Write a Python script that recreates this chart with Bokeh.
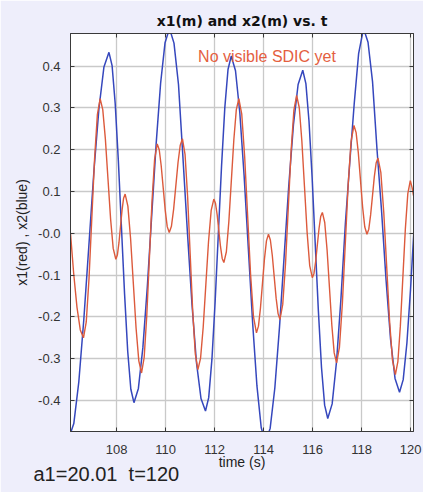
from bokeh.plotting import figure
from bokeh.models import Range1d, FixedTicker, Label, Title, LinearAxis
from bokeh.embed import file_html
from bokeh.resources import INLINE

# x1 (red) samples
t_x1 = [106.12, 106.25, 106.385, 106.52, 106.65, 106.763, 106.877, 106.99, 107.103, 107.217,
        107.33, 107.437, 107.543, 107.65, 107.757, 107.863, 107.97, 108.033, 108.097, 108.16,
        108.223, 108.287, 108.35, 108.462, 108.573, 108.685, 108.797, 108.908, 109.02, 109.127,
        109.233, 109.34, 109.447, 109.553, 109.66, 109.742, 109.823, 109.905, 109.987, 110.068,
        110.15, 110.24, 110.33, 110.42, 110.51, 110.60, 110.69, 110.795, 110.90, 111.005,
        111.11, 111.215, 111.32, 111.428, 111.537, 111.645, 111.753, 111.862, 111.97, 112.038,
        112.107, 112.175, 112.243, 112.312, 112.38, 112.482, 112.583, 112.685, 112.787, 112.888,
        112.99, 113.11, 113.23, 113.35, 113.47, 113.59, 113.71, 113.792, 113.873, 113.955,
        114.037, 114.118, 114.20, 114.278, 114.357, 114.435, 114.513, 114.592, 114.67, 114.783,
        114.897, 115.01, 115.123, 115.237, 115.35, 115.457, 115.563, 115.67, 115.777, 115.883,
        115.99, 116.058, 116.127, 116.195, 116.263, 116.332, 116.40, 116.497, 116.593, 116.69,
        116.787, 116.883, 116.98, 117.098, 117.217, 117.335, 117.453, 117.572, 117.69, 117.778,
        117.867, 117.955, 118.043, 118.132, 118.22, 118.295, 118.37, 118.445, 118.52, 118.595,
        118.67, 118.788, 118.907, 119.025, 119.143, 119.262, 119.38, 119.482, 119.583, 119.685,
        119.787, 119.888, 119.99, 120.06, 120.12]
x1 = [0.000, -0.096, -0.177, -0.231, -0.250, -0.212, -0.107, 0.036, 0.179, 0.284,
      0.322, 0.296, 0.226, 0.130, 0.034, -0.036, -0.062, -0.052, -0.023, 0.016,
      0.055, 0.084, 0.094, 0.065, -0.013, -0.120, -0.227, -0.305, -0.334, -0.297,
      -0.197, -0.060, 0.077, 0.177, 0.214, 0.200, 0.161, 0.108, 0.055, 0.016,
      0.002, 0.017, 0.058, 0.114, 0.170, 0.211, 0.226, 0.189, 0.088, -0.050,
      -0.188, -0.289, -0.326, -0.299, -0.224, -0.122, -0.020, 0.055, 0.082, 0.072,
      0.044, 0.006, -0.032, -0.060, -0.070, -0.044, 0.028, 0.126, 0.224, 0.296,
      0.322, 0.285, 0.182, 0.042, -0.098, -0.200, -0.238, -0.222, -0.179, -0.120,
      -0.061, -0.018, -0.002, -0.016, -0.053, -0.104, -0.155, -0.192, -0.206, -0.170,
      -0.072, 0.062, 0.196, 0.294, 0.330, 0.301, 0.221, 0.112, 0.003, -0.077,
      -0.106, -0.096, -0.067, -0.028, 0.011, 0.040, 0.050, 0.026, -0.040, -0.130,
      -0.220, -0.286, -0.310, -0.272, -0.168, -0.026, 0.116, 0.220, 0.258, 0.241,
      0.193, 0.128, 0.063, 0.015, -0.002, 0.010, 0.044, 0.089, 0.135, 0.168,
      0.180, 0.145, 0.050, -0.079, -0.209, -0.303, -0.338, -0.307, -0.222, -0.106,
      0.010, 0.095, 0.126, 0.110, 0.090]

# x2 (blue) samples
t_x2 = [106.05, 106.255, 106.46, 106.665, 106.87, 107.075, 107.28, 107.485, 107.69, 107.818,
        107.945, 108.073, 108.20, 108.328, 108.455, 108.583, 108.71, 108.891, 109.073, 109.254,
        109.435, 109.616, 109.798, 109.979, 110.16, 110.344, 110.528, 110.711, 110.895, 111.079,
        111.263, 111.446, 111.63, 111.761, 111.893, 112.024, 112.155, 112.286, 112.418, 112.549,
        112.68, 112.855, 113.03, 113.205, 113.38, 113.555, 113.73, 113.905, 114.08, 114.27,
        114.46, 114.65, 114.84, 115.03, 115.22, 115.41, 115.60, 115.728, 115.855, 115.983,
        116.11, 116.238, 116.365, 116.493, 116.62, 116.80, 116.98, 117.16, 117.34, 117.52,
        117.70, 117.88, 118.08, 118.264, 118.448, 118.631, 118.815, 118.999, 119.183, 119.366,
        119.55, 119.70, 119.85, 120.00, 120.15, 120.30]
x2 = [-0.490, -0.455, -0.355, -0.205, -0.029, 0.148, 0.298, 0.398, 0.433, 0.401,
      0.310, 0.174, 0.014, -0.146, -0.282, -0.373, -0.405, -0.371, -0.274, -0.129,
      0.043, 0.214, 0.359, 0.456, 0.490, 0.455, 0.356, 0.180, 0.000, -0.170,
      -0.310, -0.395, -0.425, -0.393, -0.301, -0.163, 0.000, 0.162, 0.300, 0.392,
      0.424, 0.389, 0.289, 0.139, -0.038, -0.215, -0.365, -0.465, -0.500, -0.466,
      -0.370, -0.225, -0.055, 0.115, 0.260, 0.356, 0.390, 0.358, 0.268, 0.133,
      -0.027, -0.186, -0.321, -0.411, -0.443, -0.408, -0.306, -0.155, 0.024, 0.170,
      0.310, 0.430, 0.490, 0.457, 0.363, 0.200, 0.055, -0.111, -0.253, -0.347,
      -0.380, -0.350, -0.263, -0.133, 0.020, 0.173]

x_ticks = [108, 110, 112, 114, 116, 118, 120]
y_ticks = [-0.4, -0.3, -0.2, -0.1, 0.0, 0.1, 0.2, 0.3, 0.4]
y_tick_labels = ["-0.4", "-0.3", "-0.2", "-0.1", "-0.0", "0.1", "0.2", "0.3", "0.4"]

p = figure(width=423, height=492, output_backend="svg", toolbar_location=None,
           x_range=Range1d(106.12, 120.12), y_range=Range1d(-0.474, 0.478),
           min_border_left=70, min_border_right=10, min_border_top=33, min_border_bottom=61,
           title="x1(m) and x2(m) vs. t")

p.border_fill_color = "#eeeefb"
p.background_fill_color = "white"
p.outline_line_color = "#3a3a3a"
p.outline_line_width = 1

p.title.align = "center"
p.title.text_font = "DejaVu Sans"
p.title.text_font_size = "14px"
p.title.text_font_style = "bold"
p.title.text_color = "#111111"
p.title.standoff = 10

bottom_axis = p.below[0]
left_axis = p.left[0]

# plain tick-only axes on the top and right edges of the frame
top_axis = LinearAxis()
right_axis = LinearAxis()
p.add_layout(top_axis, "above")
p.add_layout(right_axis, "right")

for ax in (bottom_axis, top_axis):
    ax.ticker = FixedTicker(ticks=x_ticks, minor_ticks=[])
for ax in (left_axis, right_axis):
    ax.ticker = FixedTicker(ticks=y_ticks, minor_ticks=[])

for ax in (bottom_axis, left_axis, top_axis, right_axis):
    ax.major_tick_in = 4
    ax.major_tick_out = 0
    ax.minor_tick_in = 0
    ax.minor_tick_out = 0
    ax.axis_line_color = "#3a3a3a"
    ax.major_tick_line_color = "#3a3a3a"
    ax.major_label_text_font = "Liberation Sans"
    ax.major_label_text_font_size = "13px"
    ax.major_label_text_color = "#333333"
    ax.axis_label_text_font = "Liberation Sans"
    ax.axis_label_text_font_size = "14px"
    ax.axis_label_text_font_style = "normal"
    ax.axis_label_text_color = "#222222"

for ax in (top_axis, right_axis):
    ax.major_label_text_font_size = "0px"
    ax.major_label_text_alpha = 0
    ax.major_label_standoff = 0

left_axis.major_label_overrides = dict(zip(y_ticks, y_tick_labels))

bottom_axis.axis_label = "time (s)"
bottom_axis.major_label_standoff = 13
bottom_axis.axis_label_standoff = -3
left_axis.axis_label = "x1(red) , x2(blue)"
left_axis.major_label_standoff = 10
left_axis.axis_label_standoff = 5

p.grid.grid_line_color = "#c9c9c9"
p.grid.grid_line_width = 1.3

p.line(t_x2, x2, line_color="#3547bd", line_width=1.5)
p.line(t_x1, x1, line_color="#dc5a3c", line_width=1.4)

p.add_layout(Label(x=114.14, y=0.423, text="No visible SDIC yet", text_align="center",
                   text_baseline="alphabetic", text_font="Liberation Sans",
                   text_font_size="16px", text_color="#e4603f"))

status = Title(text="a1=20.01\u00a0\u00a0t=120", align="left", vertical_align="top", offset=-37,
               standoff=-20, text_font="Liberation Sans", text_font_size="20px",
               text_font_style="normal", text_color="#222222")
p.add_layout(status, "below")

open("out.html", "w").write(file_html(p, INLINE))
